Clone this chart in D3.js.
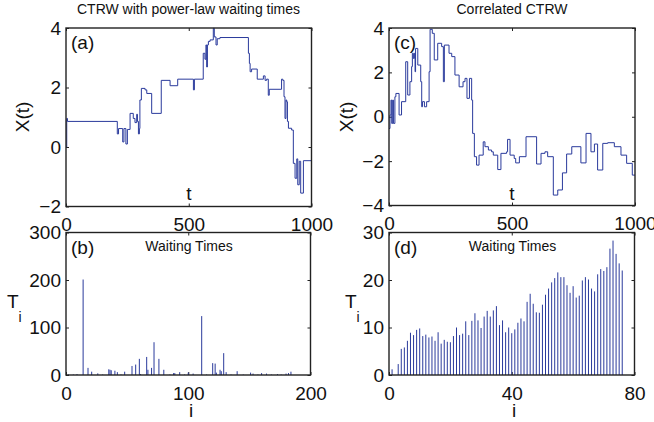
<!DOCTYPE html>
<html>
<head>
<meta charset="utf-8">
<script src="https://cdn.jsdelivr.net/npm/d3@7"></script>
<style>
  body { margin: 0; background: #fff; }
  svg text { font-family: "Liberation Sans", Arial, Helvetica, sans-serif; fill: #111; }
</style>
</head>
<body>
<div class="chart"></div>
<script>
// Data

// (a) CTRW with power-law waiting times: step path, value held from t onwards
var walkA_t = [0, 3, 6, 209, 214, 231, 236, 244, 250, 261, 274, 281, 288, 291, 295, 299, 301, 307, 322, 329,
  349, 388, 424, 455, 519, 523, 559, 566, 570, 573, 576, 580, 587, 600, 604, 611, 616, 627, 743, 747,
  750, 756, 779, 804, 811, 817, 824, 828, 878, 883, 888, 892, 896, 899, 902, 906, 919, 926, 933, 940,
  944, 950, 956, 967, 1000];
var walkA_x = [0, 0.96, 0.86, 0.44, 0.62, 0.17, 0.62, 0.10, 0.59, 1.13, 0.96, 0.82, 1.10, 0.86, 0.44, 0.62, 1.58, 1.97, 1.92, 1.80,
  1.13, 2.24, 2.06, 2.28, 1.92, 2.28, 3.15, 2.95, 3.43, 2.69, 3.43, 3.55, 3.60, 3.99, 3.70, 3.43, 3.64, 3.68, 3.15, 2.81,
  2.53, 2.62, 2.28, 2.39, 2.24, 2.28, 1.74, 1.94, 2.28, 2.24, 1.69, 0.96, 1.58, 1.52, 0.86, 0.63, 0.57, -0.55, -1.05, -0.40,
  -1.27, -0.48, -1.55, -0.46, -0.46];

// (b) waiting times, index i and value T_i
var waitB_i = [2, 6, 9, 14, 18, 21, 26, 30, 35, 36, 37, 40, 42, 45, 48, 54, 57, 60, 61, 66,
  67, 70, 72, 76, 80, 85, 88, 89, 93, 97, 100, 104, 111, 115, 120, 122, 123, 126, 127, 129,
  131, 135, 140, 145, 151, 153, 157, 160, 164, 168, 173, 176, 180, 182, 184];
var waitB_T = [1, 1, 2, 201, 15, 7, 3.5, 1, 12, 11, 10, 9, 6, 1, 7, 19, 22, 34, 2, 38,
  11, 15, 69, 34, 11, 1, 4, 4, 6, 1, 5, 3, 124, 1, 25, 24, 5, 11, 8, 46,
  6, 1, 8, 1, 5, 3, 1, 4, 3, 1, 2, 1, 3, 4, 7];

// (c) correlated CTRW: step path
var walkC_t = [0, 4, 8, 11, 15, 18, 24, 28, 41, 51, 68, 76, 85, 92, 95, 99, 103, 106, 108, 117,
  129, 133, 136, 144, 153, 163, 167, 176, 184, 198, 214, 221, 225, 244, 255, 268, 285, 301, 309, 317,
  327, 336, 340, 347, 356, 366, 383, 390, 404, 417, 424, 442, 455, 478, 482, 492, 509, 515, 530, 557,
  600, 618, 634, 645, 668, 686, 705, 722, 743, 780, 801, 821, 835, 848, 869, 889, 916, 943, 966, 989, 1000];
var walkC_x = [-0.53, 0.08, 0.75, -0.30, 0.75, -0.30, 0.90, 1.05, 0.08, 0.68, 2.48, 0.98, 1.58, 2.26, 2.86, 2.63, 2.86, 2.03, 3.08, 2.33,
  1.58, 0.45, 0.68, 0.45, 0.68, 2.03, 3.94, 3.76, 2.56, 3.31, 3.16, 1.58, 3.23, 2.86, 2.71, 1.88, 1.35, 1.58, 1.73, 0.83,
  1.73, 0.75, -0.75, -1.80, -2.18, -1.73, -1.13, -1.35, -1.50, -1.58, -1.73, -2.38, -1.65, -1.58, -1.02, -1.73, -1.88, -2.08, -1.80, -0.90,
  -2.13, -1.65, -1.58, -1.80, -3.53, -3.30, -2.53, -1.68, -1.35, -2.08, -0.75, -1.58, -1.23, -2.40, -1.20, -1.17, -1.35, -1.73, -2.10, -2.63, -2.63];

// (d) waiting times for i = 1..76
var waitD_T = [1.2, 0, 2.3, 5.5, 5.8, 7.2, 8.9, 8.4, 9.5, 9.8, 8.2, 8.5, 7.9, 8.1, 7.2, 9.0, 6.6, 7.4, 7.0, 6.9,
  8.2, 10.0, 8.4, 8.7, 11.3, 8.4, 11.4, 13.0, 11.5, 9.9, 12.3, 13.5, 12.3, 13.6, 14.5, 10.5, 11.5, 9.0, 10.0, 8.8,
  9.6, 11.0, 11.9, 11.3, 15.4, 17.1, 15.0, 13.2, 13.1, 14.8, 16.9, 18.2, 19.5, 20.4, 21.6, 20.6, 20.6, 18.9, 17.3, 18.7,
  16.3, 16.7, 19.9, 20.6, 20.1, 18.2, 17.6, 21.2, 22.3, 21.9, 22.7, 26.6, 28.3, 25.5, 23.5, 22.0];

var ticksXA = [0, 500, 1000], ticksYA = [-2, 0, 2, 4];
var ticksXB = [0, 100, 200], ticksYB = [0, 100, 200, 300];
var ticksXC = [0, 500, 1000], ticksYC = [-4, -2, 0, 2, 4];
var ticksXD = [0, 40, 80], ticksYD = [0, 10, 20, 30];

// Layout
var width = 654, height = 422,
  lineColor = "#2a3a9c",
  tickFont = 19,
  tickLen = 3,
  fmt = d3.format("d");

var svg = d3.select(".chart").append("svg")
  .attr("width", width)
  .attr("height", height);

svg.append("rect").attr("width", width).attr("height", height).attr("fill", "#fff");

var panels = [
  { left: 66, right: 311.5, top: 28, bottom: 206.5, xd: [0, 1000], yd: [-2, 4], xt: ticksXA, yt: ticksYA, tag: "(a)" },
  { left: 66, right: 310.5, top: 232.5, bottom: 375, xd: [0, 200], yd: [0, 300], xt: ticksXB, yt: ticksYB, tag: "(b)" },
  { left: 389, right: 635, top: 28, bottom: 205.5, xd: [0, 1000], yd: [-4, 4], xt: ticksXC, yt: ticksYC, tag: "(c)" },
  { left: 389, right: 634.5, top: 232.5, bottom: 375, xd: [0, 80], yd: [0, 30], xt: ticksXD, yt: ticksYD, tag: "(d)" }
];

// Build axes with inward ticks on all four sides
function drawFrame(p) {
  p.x = d3.scaleLinear().domain(p.xd).range([p.left, p.right]);
  p.y = d3.scaleLinear().domain(p.yd).range([p.bottom, p.top]);
  var g = svg.append("g");
  p.g = g;

  g.append("g")
    .attr("transform", "translate(0," + p.bottom + ")")
    .call(d3.axisBottom(p.x).tickValues(p.xt).tickFormat(fmt).tickSize(-tickLen).tickSizeOuter(0).tickPadding(11.5));
  g.append("g")
    .attr("transform", "translate(" + p.left + ",0)")
    .call(d3.axisLeft(p.y).tickValues(p.yt).tickFormat(fmt).tickSize(-tickLen).tickSizeOuter(0).tickPadding(5));
  g.append("g")
    .attr("transform", "translate(0," + p.top + ")")
    .call(d3.axisTop(p.x).tickValues(p.xt).tickSize(-tickLen).tickSizeOuter(0).tickFormat(""));
  g.append("g")
    .attr("transform", "translate(" + p.right + ",0)")
    .call(d3.axisRight(p.y).tickValues(p.yt).tickSize(-tickLen).tickSizeOuter(0).tickFormat(""));

  g.selectAll(".domain").remove();
  g.selectAll(".tick line").attr("stroke", "#222").attr("stroke-width", 1);
  g.selectAll(".tick text")
    .style("font-size", tickFont + "px")
    .attr("fill", "#111");
  return g;
}

function drawBox(p) {
  p.g.append("rect")
    .attr("x", p.left)
    .attr("y", p.top)
    .attr("width", p.right - p.left)
    .attr("height", p.bottom - p.top)
    .attr("fill", "none")
    .attr("stroke", "#222")
    .attr("stroke-width", 1.4);
}

panels.forEach(drawFrame);

// (a) and (c): step walks
function drawWalk(p, ts, xs) {
  var pts = ts.map(function(t, k) { return [t, xs[k]]; });
  var line = d3.line()
    .x(function(d) { return p.x(d[0]); })
    .y(function(d) { return p.y(d[1]); })
    .curve(d3.curveStepAfter);
  p.g.append("path")
    .datum(pts)
    .attr("d", line)
    .attr("fill", "none")
    .attr("stroke", lineColor)
    .attr("stroke-width", 1);
}
drawWalk(panels[0], walkA_t, walkA_x);
drawWalk(panels[2], walkC_t, walkC_x);

// (b) and (d): stem bars
function drawStems(p, is, vs) {
  p.g.append("g").selectAll("line")
    .data(vs.map(function(v, k) { return [is[k], v]; }))
    .enter().append("line")
    .attr("x1", function(d) { return p.x(d[0]); })
    .attr("x2", function(d) { return p.x(d[0]); })
    .attr("y1", p.y(0))
    .attr("y2", function(d) { return p.y(d[1]); })
    .attr("stroke", lineColor)
    .attr("stroke-width", 1);
}
drawStems(panels[1], waitB_i, waitB_T);
drawStems(panels[3], waitD_T.map(function(v, k) { return k + 1; }), waitD_T);

panels.forEach(drawBox);

// Labels
function addText(x, y, str, size, anchor) {
  return svg.append("text")
    .attr("x", x)
    .attr("y", y)
    .attr("text-anchor", anchor || "middle")
    .style("font-size", size + "px")
    .text(str);
}

panels.forEach(function(p) {
  addText(p.left + 5, p.tag === "(a)" || p.tag === "(c)" ? 49 : 254, p.tag, 19, "start");
});

addText(188.5, 14, "CTRW with power-law waiting times", 14);
addText(512, 14, "Correlated CTRW", 14);
addText(189, 251, "Waiting Times", 14);
addText(512.5, 251, "Waiting Times", 14);

// x labels: "t" sits inside the upper plots, "i" below the lower ones
addText(189, 200, "t", 19);
addText(512, 200, "t", 19);
addText(191, 417, "i", 19);
addText(514, 417, "i", 19);

// y labels
[[22, 117], [346, 117]].forEach(function(c) {
  svg.append("text")
    .attr("transform", "translate(" + c[0] + "," + c[1] + ") rotate(-90)")
    .attr("text-anchor", "middle")
    .attr("dy", "0.35em")
    .style("font-size", "19px")
    .text("X(t)");
});
[[7, 308], [345, 308]].forEach(function(c) {
  var t = svg.append("text")
    .attr("x", c[0])
    .attr("y", c[1])
    .style("font-size", "19px")
    .text("T");
  t.append("tspan")
    .attr("dy", 14)
    .style("font-size", "14px")
    .text("i");
});
</script>
</body>
</html>
